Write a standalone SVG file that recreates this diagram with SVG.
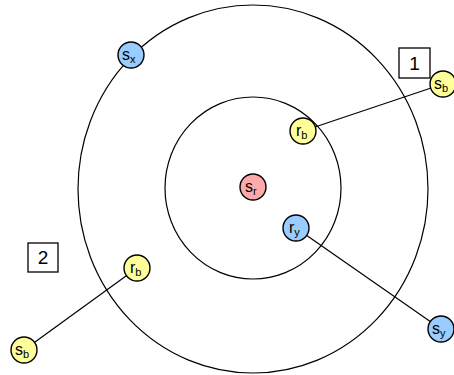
<svg xmlns="http://www.w3.org/2000/svg" width="454" height="375" viewBox="0 0 454 375">
<style>
.ring{fill:none;stroke:#000;stroke-width:1.2}
.n{stroke:#000;stroke-width:1.4}
.y{fill:#ffff99}
.b{fill:#99ccff}
.r{fill:#ffaaaa}
.t{font-family:"Liberation Sans",Arial,sans-serif;font-size:16px;fill:#000}
.s{font-size:11px}
.num{font-size:19px}
.box{fill:#fff;stroke:#000;stroke-width:1.3}
.e{stroke:#000;stroke-width:1.2;fill:none}
</style>
<rect width="454" height="375" fill="#fff"/>
<g id="rings">
<ellipse class="ring" cx="253" cy="189" rx="175" ry="184"/>
<ellipse class="ring" cx="253" cy="188" rx="88" ry="91"/>
</g>
<g id="connectors">
<line class="e" x1="303" y1="131" x2="443" y2="84"/>
<line class="e" x1="296" y1="228" x2="441" y2="329"/>
<line class="e" x1="137" y1="268" x2="24" y2="350"/>
</g>
<g id="box1"><rect class="box" x="399" y="48" width="31" height="30"/><text class="t num" x="414.5" y="70" text-anchor="middle">1</text></g>
<g id="box2"><rect class="box" x="28" y="243" width="30" height="29"/><text class="t num" x="43" y="264" text-anchor="middle">2</text></g>
<g id="sx"><circle class="n b" cx="131" cy="55" r="13"/><text class="t" x="122" y="60">s<tspan class="s" dy="3">x</tspan></text></g>
<g id="sb1"><circle class="n y" cx="443" cy="84" r="13"/><text class="t" x="434" y="89">s<tspan class="s" dy="3">b</tspan></text></g>
<g id="rb1"><circle class="n y" cx="303" cy="131" r="13"/><text class="t" x="296" y="136">r<tspan class="s" dy="3">b</tspan></text></g>
<g id="sr"><circle class="n r" cx="253" cy="187" r="13"/><text class="t" x="245" y="192">s<tspan class="s" dy="3">r</tspan></text></g>
<g id="ry"><circle class="n b" cx="296" cy="228" r="13"/><text class="t" x="289" y="233">r<tspan class="s" dy="3">y</tspan></text></g>
<g id="sy"><circle class="n b" cx="441" cy="329" r="13"/><text class="t" x="432" y="334">s<tspan class="s" dy="3">y</tspan></text></g>
<g id="rb2"><circle class="n y" cx="137" cy="268" r="13"/><text class="t" x="130" y="273">r<tspan class="s" dy="3">b</tspan></text></g>
<g id="sb2"><circle class="n y" cx="24" cy="350" r="13"/><text class="t" x="15" y="355">s<tspan class="s" dy="3">b</tspan></text></g>
</svg>
